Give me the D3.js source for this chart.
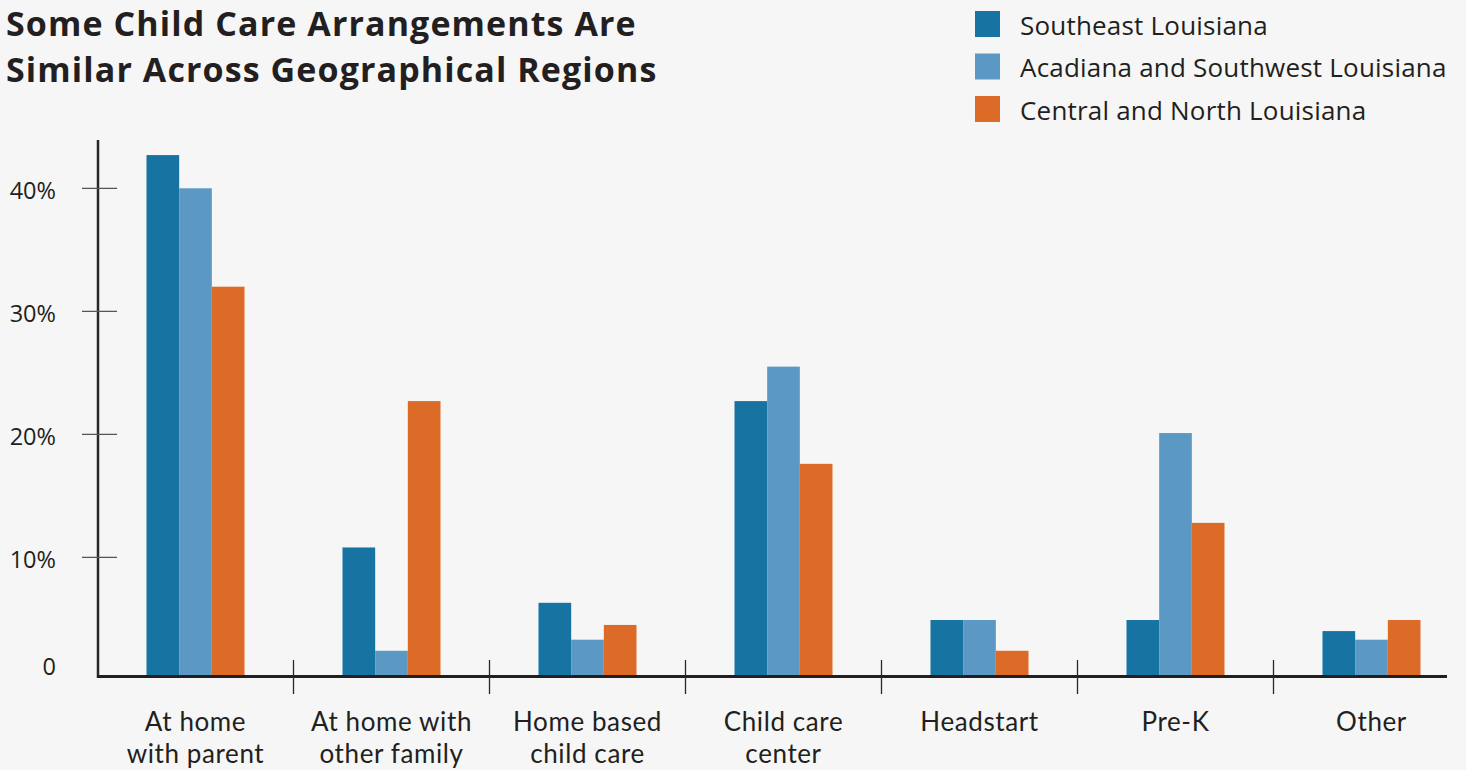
<!DOCTYPE html>
<html>
<head>
<meta charset="utf-8">
<script src="https://cdn.jsdelivr.net/npm/d3@7"></script>
<style>
  html, body { margin: 0; padding: 0; background: #f6f6f6; }
  svg { display: block; }
  text { font-family: "Open Sans", Lato, sans-serif; fill: #231f20; }
</style>
</head>
<body>
<svg id="chart" width="1466" height="770"></svg>
<script>
// Child care arrangement shares (%) by region
const categories = ["At home with parent", "At home with other family", "Home based child care",
  "Child care center", "Headstart", "Pre-K", "Other"];
const categoryLines = [["At home", "with parent"], ["At home with", "other family"], ["Home based", "child care"],
  ["Child care", "center"], ["Headstart"], ["Pre-K"], ["Other"]];
const seriesNames = ["Southeast Louisiana", "Acadiana and Southwest Louisiana", "Central and North Louisiana"];
const southeast = [42.7, 10.8, 6.3, 22.7, 4.9, 4.9, 4.0];
const acadiana  = [40.0, 2.4, 3.3, 25.5, 4.9, 20.1, 3.3];
const central   = [32.0, 22.7, 4.5, 17.6, 2.4, 12.8, 4.9];
const tickValues = [10, 20, 30, 40];
const tickLabels = ["10%", "20%", "30%", "40%"];
const colors = ["#1673a2", "#5b98c4", "#dc6b28"];

const seriesValues = [southeast, acadiana, central];
const rows = categories.map((c, i) => ({
  category: c,
  lines: categoryLines[i],
  values: seriesValues.map((s, k) => ({ key: seriesNames[k], value: s[i], color: colors[k] }))
}));

const svg = d3.select("#chart");

// Scales
const x0 = d3.scaleBand().domain(categories).range([97.5, 1469.5]).paddingInner(0).paddingOuter(0);
const x1 = d3.scaleBand().domain(seriesNames).range([49, 147]).padding(0);
const y = d3.scaleLinear().domain([0, 40]).range([680.3, 188.3]);
const axisY = 676.5;

// Title
const title = svg.append("text")
  .style("font-size", "34px").style("font-weight", 700).style("letter-spacing", "1.1px");
title.append("tspan").attr("x", 6).attr("y", 36).text("Some Child Care Arrangements Are");
title.append("tspan").attr("x", 6).attr("y", 82).text("Similar Across Geographical Regions");

// Legend
const legend = svg.append("g").attr("transform", "translate(975,11)");
seriesNames.forEach((name, k) => {
  const g = legend.append("g").attr("transform", `translate(0,${k * 42.5})`);
  g.append("rect").attr("width", 25).attr("height", 26).attr("fill", colors[k]);
  g.append("text").attr("x", 45).attr("y", 23.5)
    .style("font-size", "26px").style("letter-spacing", "0.2px").text(name);
});

// Bars
const groups = svg.append("g").selectAll("g")
  .data(rows).join("g")
  .attr("transform", d => `translate(${x0(d.category)},0)`);
groups.selectAll("rect")
  .data(d => d.values).join("rect")
  .attr("x", d => x1(d.key))
  .attr("width", x1.bandwidth())
  .attr("y", d => y(d.value))
  .attr("height", d => axisY - y(d.value))
  .attr("fill", d => d.color);

// Y axis: vertical rule, tick marks and labels
svg.append("line")
  .attr("x1", 98).attr("x2", 98).attr("y1", 140).attr("y2", axisY + 1.5)
  .attr("stroke", "#2b2729").attr("stroke-width", 2.5);
const yAxis = d3.axisLeft(y).tickValues(tickValues)
  .tickFormat((d, i) => tickLabels[i]).tickSizeInner(0).tickSizeOuter(0).tickPadding(0);
const yg = svg.append("g").attr("transform", "translate(56,0)").call(yAxis);
yg.select(".domain").remove();
yg.selectAll("text")
  .attr("dy", "0.43em")
  .style("font-size", "23.5px").style("font-family", "'Open Sans', sans-serif").attr("fill", "#231f20");
svg.append("g").selectAll("line")
  .data(tickValues).join("line")
  .attr("x1", 82).attr("x2", 117)
  .attr("y1", d => y(d)).attr("y2", d => y(d))
  .attr("stroke", "#555").attr("stroke-width", 1.3);
svg.append("text")
  .attr("x", 56).attr("y", axisY - 1.5)
  .attr("text-anchor", "end").style("font-size", "23.5px").text("0");

// X axis baseline and category separators
svg.append("line")
  .attr("x1", 97).attr("x2", 1447).attr("y1", axisY).attr("y2", axisY)
  .attr("stroke", "#231f20").attr("stroke-width", 3);
svg.append("g").selectAll("line")
  .data(categories.slice(1)).join("line")
  .attr("x1", d => x0(d)).attr("x2", d => x0(d))
  .attr("y1", 660).attr("y2", 694)
  .attr("stroke", "#2b2729").attr("stroke-width", 1.3);

// Category labels (two lines where needed)
const labels = svg.append("g").selectAll("text")
  .data(rows).join("text")
  .attr("text-anchor", "middle")
  .style("font-family", "Lato, 'Open Sans', sans-serif")
  .style("font-size", "26px").style("letter-spacing", "0.6px")
  .attr("transform", d => `translate(${x0(d.category) + x0.bandwidth() / 2},731)`);
labels.selectAll("tspan")
  .data(d => d.lines).join("tspan")
  .attr("x", 0).attr("y", (d, i) => i * 32)
  .text(d => d);
</script>
</body>
</html>
